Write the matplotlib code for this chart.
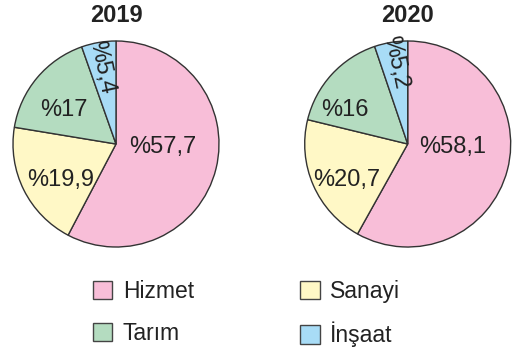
import matplotlib
matplotlib.use("Agg")
import matplotlib.pyplot as plt
from matplotlib.patches import Patch

plt.rcParams['font.family'] = ['Liberation Sans', 'DejaVu Sans']

sectors = ["Hizmet", "Sanayi", "Tarım", "İnşaat"]
years = ["2019", "2020"]
shares_2019 = [57.7, 19.9, 17, 5.4]
shares_2020 = [58.1, 20.7, 16, 5.2]
colors = ["#f8bed8", "#fff8c6", "#b4dcc0", "#a8dcf6"]

# label placement (in units of pie radius) and rotation for each slice
label_pos = {
    "2019": [(0.45, -0.03), (-0.54, -0.35), (-0.51, 0.33), (-0.14, 0.74)],
    "2020": [(0.44, -0.03), (-0.59, -0.35), (-0.61, 0.33), (-0.12, 0.79)],
}
label_rot = [0, 0, 0, -78]

W, H = 515, 349
fig = plt.figure(figsize=(W / 100, H / 100), dpi=100)

centers = [(116, 144), (407.7, 144)]
radius = 103
text_color = "#222222"


def fmt(v):
    s = ("%g" % v).replace(".", ",")
    return "%" + s


for year, vals, (cx, cy) in zip(years, [shares_2019, shares_2020], centers):
    ax = fig.add_axes([(cx - radius) / W, (H - cy - radius) / H,
                       2 * radius / W, 2 * radius / H])
    ax.pie(vals, colors=colors, startangle=90, counterclock=False,
           wedgeprops=dict(edgecolor="#333333", linewidth=1.0))
    ax.set_xlim(-1, 1)
    ax.set_ylim(-1, 1)
    ax.set_aspect("equal")
    ax.axis("off")
    for v, (lx, ly), rot in zip(vals, label_pos[year], label_rot):
        ax.text(lx, ly, fmt(v), ha="center", va="center", rotation=rot,
                fontsize=17, color=text_color)
    fig.text(cx / W, 1 - 16 / H, year, ha="center", va="center",
             fontsize=17, fontweight="bold", color=text_color)

handles = [Patch(facecolor=c, edgecolor="#444444", linewidth=1.0) for c in colors]
order = [0, 2, 1, 3]
leg = fig.legend([handles[i] for i in order], [sectors[i] for i in order],
                 ncol=2, frameon=False, fontsize=16.5,
                 loc="upper left", bbox_to_anchor=(93 / W, 1 - 280 / H),
                 handlelength=0.85, handleheight=0.85, handletextpad=0.45,
                 columnspacing=4.65, labelspacing=0.82, borderaxespad=0,
                 borderpad=0)
for t in leg.get_texts():
    t.set_color(text_color)

fig.savefig("out.png", dpi=100, facecolor="white")
